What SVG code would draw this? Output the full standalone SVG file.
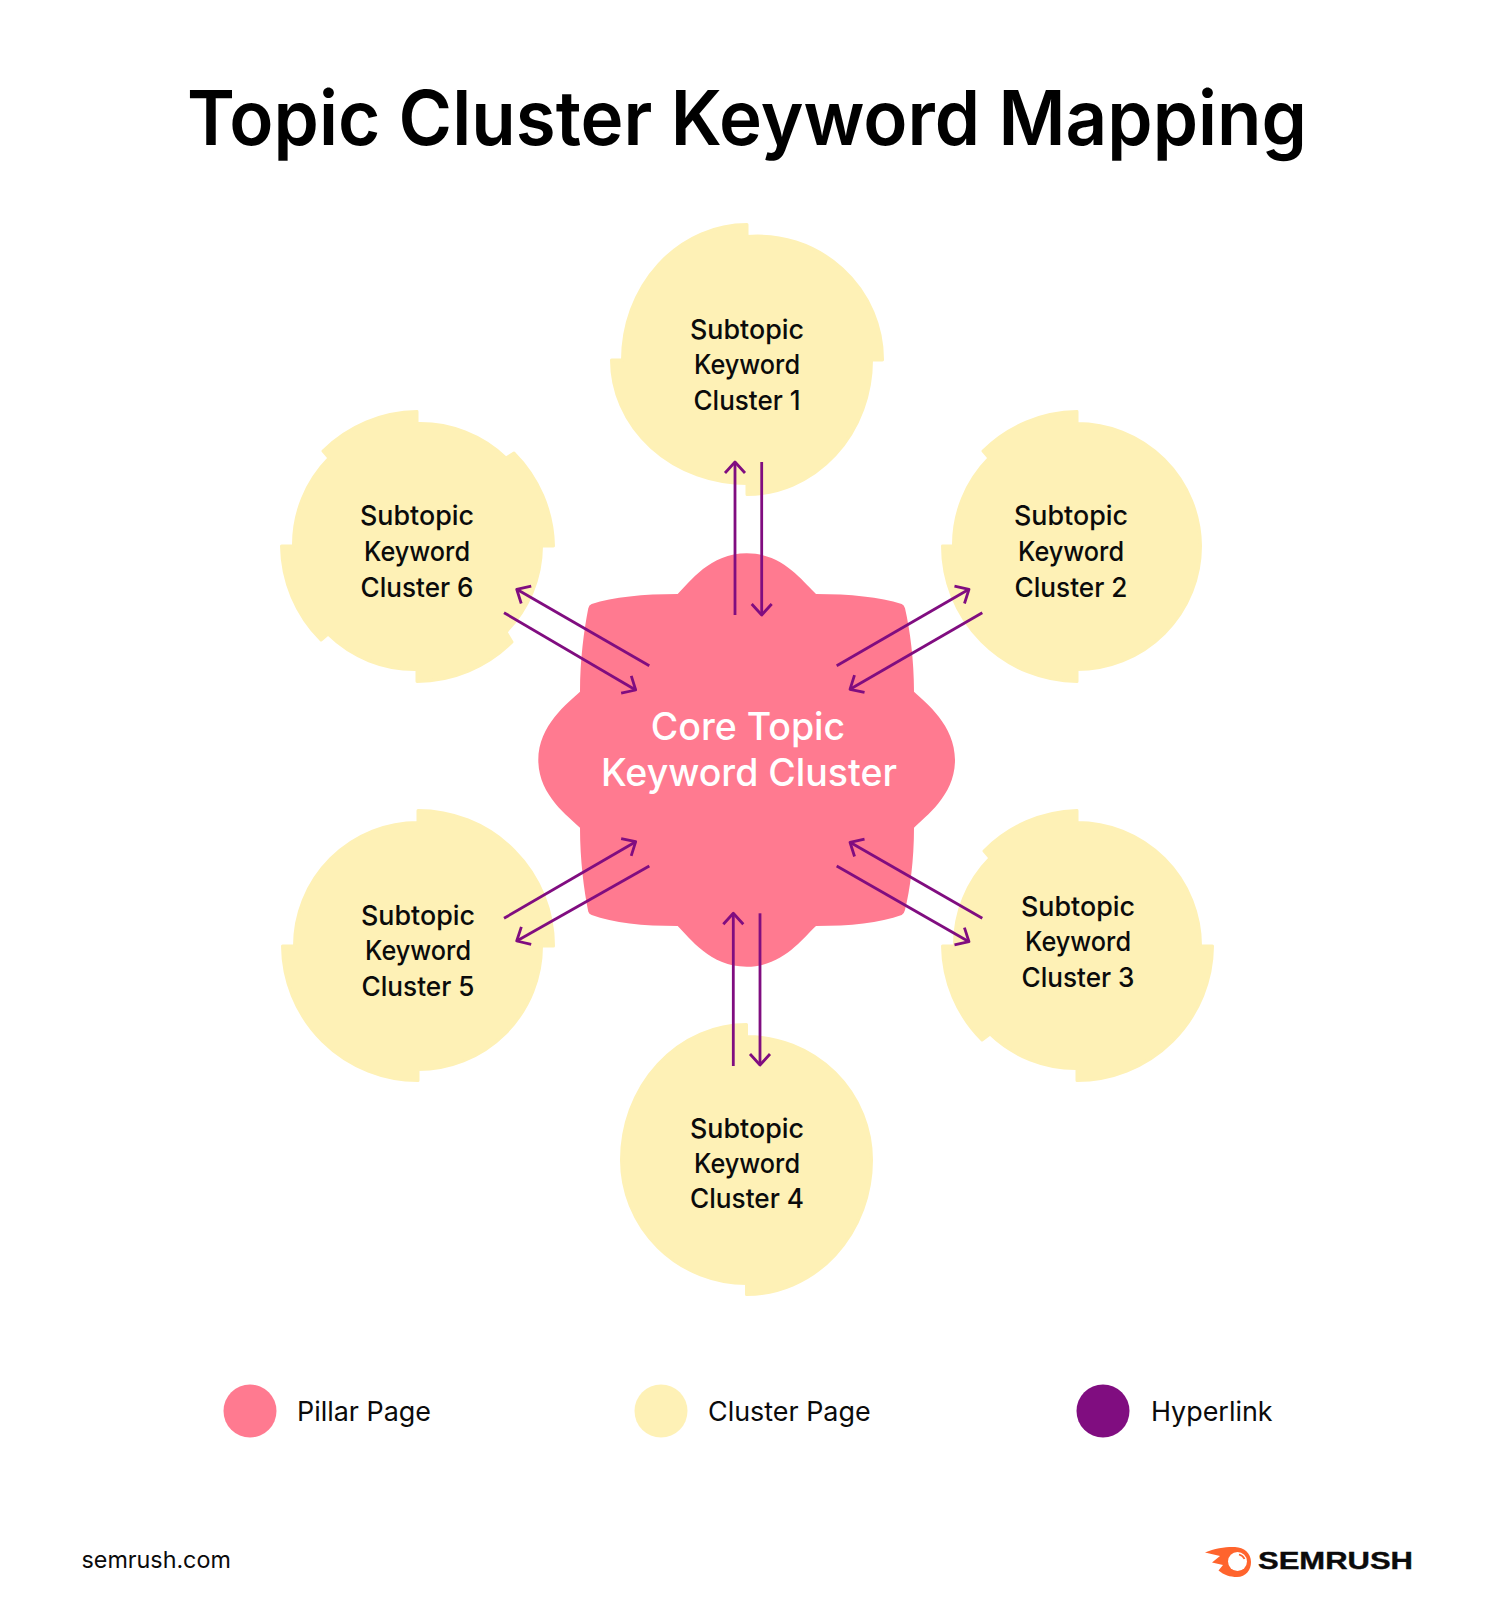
<svg xmlns="http://www.w3.org/2000/svg" width="1494" height="1600" viewBox="0 0 1494 1600">
<style>
.t{font-family:"Inter","Liberation Sans",sans-serif;text-anchor:middle;fill:#0b0b0b}
.n{font-size:27px;font-weight:500}
.l{font-size:26.9px;font-weight:400;text-anchor:start}
.blob{fill:#fef1b6;stroke:#fef1b6;stroke-width:3;stroke-linejoin:round}
.a{fill:none;stroke:#800d80;stroke-width:2.8;marker-end:url(#h)}
</style>
<defs>
<marker id="h" markerUnits="userSpaceOnUse" markerWidth="30" markerHeight="30" viewBox="-15 -15 30 30" refX="0" refY="0" orient="auto">
<path d="M-11,-10 L0,0 L-11,10" fill="none" stroke="#800d80" stroke-width="2.8" stroke-linejoin="round"/>
</marker>
</defs>
<rect width="1494" height="1600" fill="#fff"/>
<text id="title" class="t" x="747" y="144.5" font-size="76" font-weight="600" textLength="1120" lengthAdjust="spacingAndGlyphs" style="fill:#000">Topic Cluster Keyword Mapping</text>

<g id="core">
<path fill="#ff7a90" d="M677.7,594 C690,582 710,553.3 746.7,553.3 C783,553.3 803,582 816,594 C850,594 880,597 901.7,604 Q904,605 905,608.3 C910,630 914,660 914,691.7 C926,703 955,725 955,760 C955,795 926,816 914,827.7 C914,860 910,890 905,910 Q904,914 901.7,915 C880,923 850,926 816,926 C803,938 783,966.7 746.7,966.7 C710,966.7 690,938 677.7,926 C643,926 613,923 591.7,915 Q589,914 588.3,911.7 C584,890 580,860 580,827.7 C568,816 538.3,795 538.3,760 C538.3,725 568,703 580,691.7 C580,660 584,630 588.3,608.3 Q589,605 591.7,604 C613,597 643,594 677.7,594 Z"/>
<text class="t" x="748" y="739.5" font-size="37.5" font-weight="500" style="fill:#fff">Core Topic</text>
<text class="t" x="749" y="785.5" font-size="37.5" font-weight="500" style="fill:#fff">Keyword Cluster</text>
</g>

<g id="cluster1">
<path class="blob" d="M747,236.5 A125,123.5 0 0 1 882.5,360 L871.5,360 A124.5,134.5 0 0 1 747,494.5 L747,483.5 A135.5,123.5 0 0 1 611.5,360 L622.5,360 A124.5,135.5 0 0 1 747,224.5 Z"/>
<text class="t n"><tspan x="747" y="339" textLength="114" lengthAdjust="spacingAndGlyphs">Subtopic</tspan><tspan x="747" y="374" textLength="106" lengthAdjust="spacingAndGlyphs">Keyword</tspan><tspan x="747" y="409.5" textLength="107" lengthAdjust="spacingAndGlyphs">Cluster 1</tspan></text>
</g>

<g id="cluster2">
<path class="blob" d="M1077,423.5 A123.5,123.5 0 0 1 1200.5,546 A123.5,123.5 0 0 1 1077,669.5 L1077,681.5 A135.5,135.5 0 0 1 942.5,546 L953.5,546 A123.5,123.5 0 0 1 989,458 L983,451 A135.5,135.5 0 0 1 1077,411.5 Z"/>
<text class="t n"><tspan x="1071" y="525" textLength="114" lengthAdjust="spacingAndGlyphs">Subtopic</tspan><tspan x="1071" y="560.5" textLength="106" lengthAdjust="spacingAndGlyphs">Keyword</tspan><tspan x="1071" y="596.5" textLength="113" lengthAdjust="spacingAndGlyphs">Cluster 2</tspan></text>
</g>

<g id="cluster3">
<path class="blob" d="M1077,822.5 A123.5,123.5 0 0 1 1200.5,946 L1212.5,946 A135.5,135.5 0 0 1 1077,1080.5 L1077,1068.5 A123.5,123.5 0 0 1 990,1034 L982,1040 A135.5,135.5 0 0 1 942.5,946 L954.5,946 A123.5,123.5 0 0 1 990,858 L984,851 A135.5,135.5 0 0 1 1077,810.5 Z"/>
<text class="t n"><tspan x="1078" y="915.5" textLength="114" lengthAdjust="spacingAndGlyphs">Subtopic</tspan><tspan x="1078" y="951" textLength="106" lengthAdjust="spacingAndGlyphs">Keyword</tspan><tspan x="1078" y="986.5" textLength="113" lengthAdjust="spacingAndGlyphs">Cluster 3</tspan></text>
</g>

<g id="cluster4">
<path class="blob" d="M746.5,1036.5 A125,123.5 0 0 1 871.5,1160 A125,134.5 0 0 1 746.5,1294.5 L746.5,1283.5 A125,123.5 0 0 1 621.5,1160 A125,135.5 0 0 1 746.5,1024.5 Z"/>
<text class="t n"><tspan x="747" y="1137.5" textLength="114" lengthAdjust="spacingAndGlyphs">Subtopic</tspan><tspan x="747" y="1172.5" textLength="106" lengthAdjust="spacingAndGlyphs">Keyword</tspan><tspan x="747" y="1208" textLength="114" lengthAdjust="spacingAndGlyphs">Cluster 4</tspan></text>
</g>

<g id="cluster5">
<path class="blob" d="M418,810.5 A135.5,135.5 0 0 1 553.5,946 L541.5,946 A123.5,123.5 0 0 1 418,1069.5 L418,1080.5 A135.5,135.5 0 0 1 282.5,946 L294.5,946 A123.5,123.5 0 0 1 418,822.5 Z"/>
<text class="t n"><tspan x="418" y="924.5" textLength="114" lengthAdjust="spacingAndGlyphs">Subtopic</tspan><tspan x="418" y="960" textLength="106" lengthAdjust="spacingAndGlyphs">Keyword</tspan><tspan x="418" y="995.5" textLength="113" lengthAdjust="spacingAndGlyphs">Cluster 5</tspan></text>
</g>

<g id="cluster6">
<path class="blob" d="M417,423.5 A123.5,123.5 0 0 1 506,458 L514,453 A135.5,135.5 0 0 1 553.5,546 L541.5,546 A123.5,123.5 0 0 1 506,632 L512,642 A135.5,135.5 0 0 1 417,681.5 L417,669.5 A123.5,123.5 0 0 1 328,634 L321,640 A135.5,135.5 0 0 1 281.5,546 L293.5,546 A123.5,123.5 0 0 1 329,458 L323,451 A135.5,135.5 0 0 1 417,411.5 Z"/>
<text class="t n"><tspan x="417" y="525" textLength="114" lengthAdjust="spacingAndGlyphs">Subtopic</tspan><tspan x="417" y="560.5" textLength="106" lengthAdjust="spacingAndGlyphs">Keyword</tspan><tspan x="417" y="596.5" textLength="113" lengthAdjust="spacingAndGlyphs">Cluster 6</tspan></text>
</g>

<g id="connectors">
<path class="a" d="M735,615 L735,462"/>
<path class="a" d="M761.7,462 L761.7,615"/>
<path class="a" d="M733.3,1066 L733.3,913.3"/>
<path class="a" d="M760,913.3 L760,1065"/>
<path class="a" d="M649.3,665.7 L516.7,589.3"/>
<path class="a" d="M504,612.7 L635.7,690"/>
<path class="a" d="M836.7,665.7 L969,589.3"/>
<path class="a" d="M982.3,612.7 L850,689.3"/>
<path class="a" d="M504,918.3 L635.7,841.7"/>
<path class="a" d="M649.3,866 L516.7,941"/>
<path class="a" d="M836.7,866 L969,941.7"/>
<path class="a" d="M982.3,918.3 L850,842.3"/>
</g>

<g id="legend">
<circle cx="250" cy="1411" r="26.5" fill="#ff7a90"/>
<text class="t l" x="297" y="1421">Pillar Page</text>
<circle cx="661" cy="1411" r="26.5" fill="#fef1b6"/>
<text class="t l" x="708" y="1421">Cluster Page</text>
<circle cx="1103" cy="1411" r="26.5" fill="#800d80"/>
<text class="t l" x="1151" y="1421">Hyperlink</text>
</g>

<g id="footer">
<text class="t" x="81.5" y="1568" font-size="23.3" style="text-anchor:start">semrush.com</text>
<g id="logo">
<path fill="#ff642d" d="M1235,1547 C1228,1546.5 1215,1548 1205,1552.5 L1220,1556 L1212,1562.5 L1223,1565 L1218.5,1570.5 C1224,1575 1230,1577 1237,1577 C1246,1577 1251,1570 1251,1562 C1251,1553 1244,1547.5 1235,1547 Z"/>
<circle cx="1237.5" cy="1561.5" r="9.5" fill="#fff"/>
<path d="M1239,1554.5 Q1243,1555.5 1244.5,1559" fill="none" stroke="#ff642d" stroke-width="1.8"/>
</g>
<text x="1258" y="1569" font-family="Liberation Sans" font-weight="700" font-size="24" textLength="155" lengthAdjust="spacingAndGlyphs" fill="#0b0b0b" stroke="#0b0b0b" stroke-width="0.4">SEMRUSH</text>
</g>
</svg>
